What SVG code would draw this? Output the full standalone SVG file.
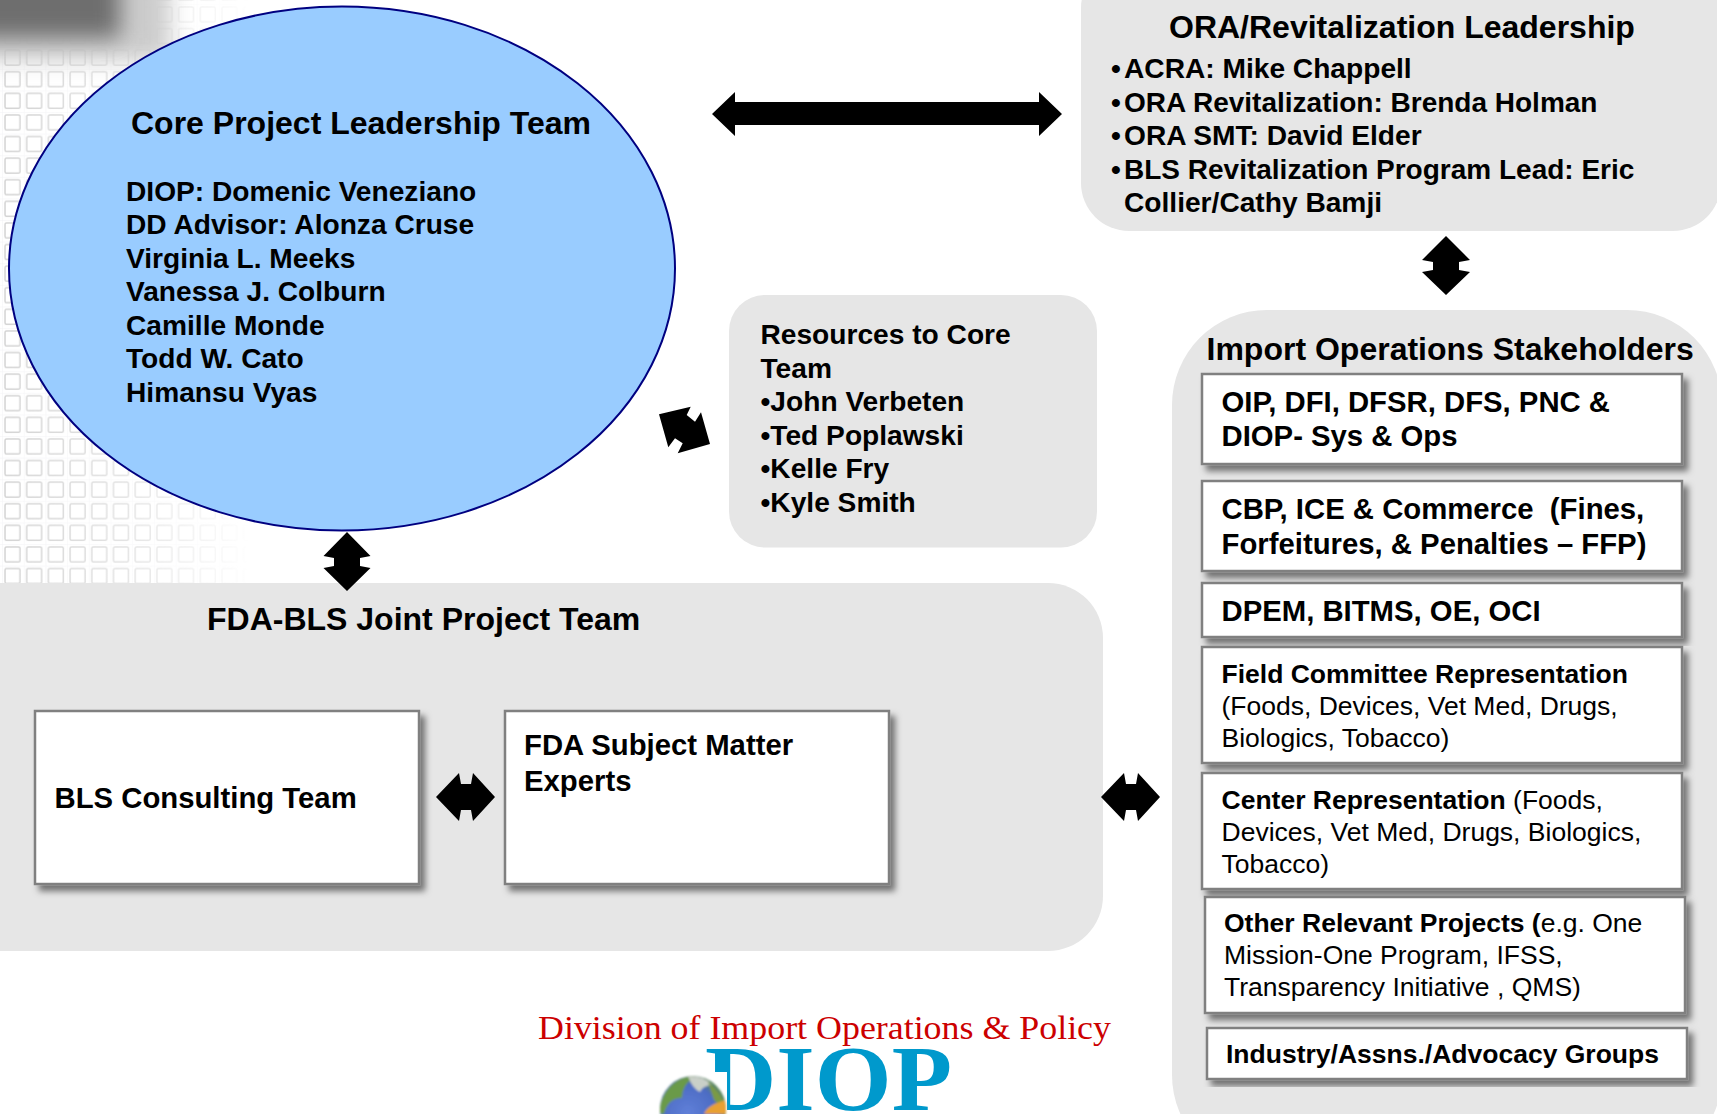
<svg xmlns="http://www.w3.org/2000/svg" width="1717" height="1114" viewBox="0 0 1717 1114">
<style>
text{font-family:"Liberation Sans",Arial,sans-serif;fill:#000}
.b{font-weight:700}
.t{font-size:32px;font-weight:700}
.l{font-size:28.15px;font-weight:700}
.m{font-size:29.3px;font-weight:700}
.s{font-size:26.5px}
.panel{fill:#e6e6e6}
.box{fill:#fff;stroke:#808080;stroke-width:2.5;filter:url(#sh)}
.arrow{fill:#000}
</style>
<defs>
<filter id="sh" x="-5%" y="-10%" width="112%" height="125%"><feDropShadow dx="5" dy="6" stdDeviation="3" flood-color="#000" flood-opacity=".5"/></filter>
<filter id="bl" x="-50%" y="-100%" width="200%" height="300%"><feGaussianBlur stdDeviation="11"/></filter>
<filter id="bs"><feGaussianBlur stdDeviation="0.7"/></filter>
<filter id="bg" x="-5%" y="-5%" width="110%" height="110%"><feGaussianBlur stdDeviation="1"/></filter>
<pattern id="grid" width="21.7" height="21.6" patternUnits="userSpaceOnUse" x="2" y="4">
<rect x="3" y="3" width="15" height="15" rx="1.5" fill="none" stroke="#c2c2c2" stroke-width="1.5"/>
<path d="M0 0H21.7M0 0V21.6" stroke="#eeeef2" stroke-width="1"/>
</pattern>
<linearGradient id="fx" gradientUnits="userSpaceOnUse" x1="0" y1="0" x2="250" y2="0"><stop offset="0" stop-color="#bbb"/><stop offset=".5" stop-color="#777"/><stop offset="1" stop-color="#000"/></linearGradient>
<mask id="fm" maskUnits="userSpaceOnUse" x="0" y="0" width="300" height="583"><rect width="300" height="583" fill="url(#fx)"/></mask>
<radialGradient id="glob" cx=".42" cy=".55" r=".6"><stop offset="0" stop-color="#5f7fd8"/><stop offset=".7" stop-color="#4d6cc4"/><stop offset="1" stop-color="#5c8a50"/></radialGradient>
<clipPath id="gc"><circle cx="693" cy="1109" r="33"/></clipPath>
</defs>
<rect width="1717" height="1114" fill="#fff"/>
<g id="background">
<rect x="0" y="0" width="300" height="583" fill="url(#grid)" mask="url(#fm)" filter="url(#bs)"/>
<rect x="-40" y="-40" width="210" height="100" fill="#cccccc" filter="url(#bl)"/>
<rect x="-40" y="-40" width="160" height="78" fill="#6e6e6e" filter="url(#bl)"/>
</g>
<g id="fda-bls-panel">
<rect class="panel" x="-60" y="583" width="1163" height="368" rx="55"/>
<text class="t" x="207" y="630">FDA-BLS Joint Project Team</text>
</g>
<g id="core-team">
<ellipse cx="342" cy="268.5" rx="333" ry="262" fill="#99ccff" stroke="#000080" stroke-width="2"/>
<text class="t" x="131" y="134">Core Project Leadership Team</text>
<text class="l" x="126" y="201">DIOP: Domenic Veneziano</text>
<text class="l" x="126" y="234">DD Advisor: Alonza Cruse</text>
<text class="l" x="126" y="268">Virginia L. Meeks</text>
<text class="l" x="126" y="301">Vanessa J. Colburn</text>
<text class="l" x="126" y="335">Camille Monde</text>
<text class="l" x="126" y="368">Todd W. Cato</text>
<text class="l" x="126" y="402">Himansu Vyas</text>
</g>
<g id="ora-leadership">
<rect class="panel" x="1081" y="-40" width="640" height="271" rx="48"/>
<text class="t" x="1169" y="38">ORA/Revitalization Leadership</text>
<text class="l" x="1111" y="78">•<tspan x="1124">ACRA: Mike Chappell</tspan></text>
<text class="l" x="1111" y="112" style="font-size:28px">•<tspan x="1124">ORA Revitalization: Brenda Holman</tspan></text>
<text class="l" x="1111" y="145">•<tspan x="1124">ORA SMT: David Elder</tspan></text>
<text class="l" x="1111" y="179" style="font-size:28px">•<tspan x="1124">BLS Revitalization Program Lead: Eric</tspan></text>
<text class="l" x="1124" y="212">Collier/Cathy Bamji</text>
</g>
<g id="resources">
<rect class="panel" x="729" y="295" width="368" height="252.500" rx="36"/>
<text class="l" x="760.500" y="344">Resources to Core</text>
<text class="l" x="760.500" y="378">Team</text>
<text class="l" x="760.500" y="411">•John Verbeten</text>
<text class="l" x="760.500" y="445">•Ted Poplawski</text>
<text class="l" x="760.500" y="478">•Kelle Fry</text>
<text class="l" x="760.500" y="512">•Kyle Smith</text>
</g>
<g id="bls-consulting">
<rect class="box" x="35" y="711" width="384" height="173"/>
<text class="m" x="54.500" y="808">BLS Consulting Team</text>
</g>
<g id="fda-sme">
<rect class="box" x="505" y="711" width="384" height="173"/>
<text class="m" x="524" y="755">FDA Subject Matter</text>
<text class="m" x="524" y="791">Experts</text>
</g>
<g id="stakeholders-panel">
<rect class="panel" x="1172" y="310" width="550" height="860" rx="95"/>
<text class="t" x="1206.500" y="360">Import Operations Stakeholders</text>
</g>
<g id="stake-1">
<rect class="box" x="1202" y="374" width="480" height="90"/>
<text class="m" x="1221.500" y="412">OIP, DFI, DFSR, DFS, PNC &amp;</text>
<text class="m" x="1221.500" y="446">DIOP- Sys &amp; Ops</text>
</g>
<g id="stake-2">
<rect class="box" x="1202" y="481" width="480" height="90"/>
<text class="m" x="1221.500" y="519" xml:space="preserve">CBP, ICE &amp; Commerce  (Fines,</text>
<text class="m" x="1221.500" y="554">Forfeitures, &amp; Penalties – FFP)</text>
</g>
<g id="stake-3">
<rect class="box" x="1202" y="583" width="480" height="54"/>
<text class="m" x="1221.500" y="621">DPEM, BITMS, OE, OCI</text>
</g>
<g id="stake-4">
<rect class="box" x="1202" y="647" width="480" height="116"/>
<text class="s b" x="1221.500" y="683">Field Committee Representation</text>
<text class="s" x="1221.500" y="715">(Foods, Devices, Vet Med, Drugs,</text>
<text class="s" x="1221.500" y="747">Biologics, Tobacco)</text>
</g>
<g id="stake-5">
<rect class="box" x="1202" y="773" width="480" height="116"/>
<text class="s" x="1221.500" y="809"><tspan class="b">Center Representation</tspan> (Foods,</text>
<text class="s" x="1221.500" y="841">Devices, Vet Med, Drugs, Biologics,</text>
<text class="s" x="1221.500" y="873">Tobacco)</text>
</g>
<g id="stake-6">
<rect class="box" x="1205" y="897" width="480" height="116"/>
<text class="s" x="1224" y="932"><tspan class="b">Other Relevant Projects (</tspan>e.g. One</text>
<text class="s" x="1224" y="964">Mission-One Program, IFSS,</text>
<text class="s" x="1224" y="996">Transparency Initiative , QMS)</text>
</g>
<g id="stake-7">
<rect class="box" x="1207" y="1028" width="480" height="51"/>
<text class="s b" x="1226" y="1063">Industry/Assns./Advocacy Groups</text>
</g>
<g id="connectors">
<polygon class="arrow" points="712,114 735,92 735,102 1039,102 1039,92 1062,114 1039,136 1039,125 735,125 735,136"/>
<polygon class="arrow" points="1446,236 1470,260 1459,262 1459,270 1470,272 1446,295 1422,272 1433,270 1433,262 1422,260"/>
<polygon class="arrow" points="659,414.3 690.7,406.7 686.7,415 695,421.7 701,412.3 710,444 677.7,453.3 682.7,443.3 675,438.3 668.3,447.3"/>
<polygon class="arrow" points="347,532 370.5,556 360,558 360,566 370.5,568 347,591 323.5,568 334,566 334,558 323.5,556"/>
<polygon class="arrow" points="436,797 459,773 461,784 471,784 473,773 495,797 473,821 471,810 461,810 459,821"/>
<polygon class="arrow" points="1101,797 1124,773 1126,784 1136,784 1138,773 1160,797 1138,821 1136,810 1126,810 1124,821"/>
</g>
<g id="logo">
<text x="705" y="1110" textLength="247" lengthAdjust="spacingAndGlyphs" style="font-family:'Liberation Serif',serif;font-size:94px;font-weight:700;fill:#0099cc">DIOP</text>
<rect x="640" y="1072" width="87" height="42" fill="#fff"/>
<text x="538" y="1039" textLength="573" lengthAdjust="spacingAndGlyphs" style="font-family:'Liberation Serif',serif;font-size:34px;fill:#cc0000">Division of Import Operations &amp; Policy</text>
<g filter="url(#bg)">
<circle cx="693" cy="1109" r="33" fill="url(#glob)"/>
<g clip-path="url(#gc)">
<path d="M660 1105Q668 1078 695 1076Q682 1085 682 1098Q668 1098 664 1114H660Z" fill="#6b9a4a"/>
<path d="M688 1076Q705 1076 712 1085Q702 1086 700 1092Q692 1088 688 1076Z" fill="#c9cfc8"/>
<path d="M708 1082Q724 1095 727 1112L714 1100Z" fill="#7a9a45"/>
<path d="M704 1114Q708 1104 727 1100V1114Z" fill="#e8a030"/>
</g>
</g>
</g>
</svg>
